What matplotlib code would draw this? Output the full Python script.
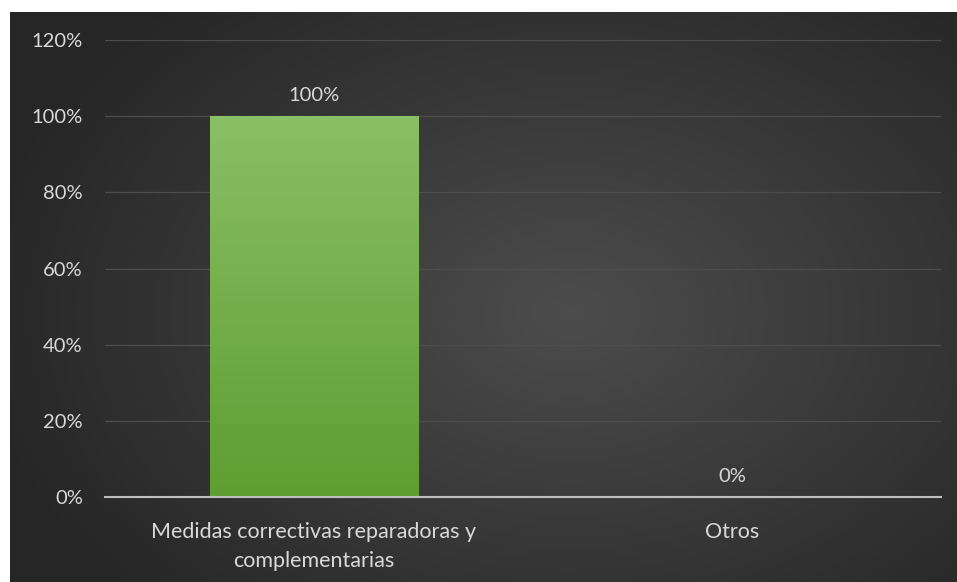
import numpy as np
from matplotlib import pyplot as plt

categories = ['Medidas correctivas reparadoras y\ncomplementarias', 'Otros']
values = [1.00, 0.00]
labels = ['100%', '0%']
yticks = [0, 0.2, 0.4, 0.6, 0.8, 1.0, 1.2]

plt.rcParams['font.family'] = ['Lato', 'DejaVu Sans']
txt = '#d9d9d9'

fig = plt.figure(figsize=(9.57, 5.82), dpi=100)
fig.patch.set_facecolor('white')

# dark radial background
bg = fig.add_axes([10/957, 0, 947/957, 570/582])
yy, xx = np.mgrid[0:570, 0:947]
r = np.sqrt(((xx - 560) / 600.0)**2 + ((yy - 300) / 420.0)**2)
r = np.clip(r, 0, 1)
c = 0.30 - 0.15 * r
img = np.dstack([c, c, c])
bg.imshow(img, aspect='auto', extent=[0, 1, 0, 1])
bg.set_axis_off()

ax = fig.add_axes([105/957, 85/582, 836/957, 457/582])
ax.set_facecolor('none')
x = np.arange(len(categories))
bars = ax.bar(x, values, width=0.5, color='#70ad47', zorder=3)

# vertical gradient on the bars
grad = np.linspace(0, 1, 256).reshape(-1, 1)
top = np.array([0x8a, 0xbf, 0x66]) / 255
bot = np.array([0x5e, 0x9e, 0x32]) / 255
gimg = bot + (top - bot) * grad[:, :, None]
for b in bars:
    if b.get_height() <= 0:
        continue
    im = ax.imshow(gimg, origin='lower', aspect='auto', zorder=4,
                   extent=[b.get_x(), b.get_x() + b.get_width(), 0, b.get_height()])
    im.set_clip_path(b)

ax.set_xlim(-0.5, 1.5)
ax.set_ylim(0, 1.2)
ax.set_yticks(yticks)
ax.set_yticklabels(['%d%%' % round(t * 100) for t in yticks])
ax.set_xticks(x)
ax.set_xticklabels(categories, linespacing=1.55)
ax.tick_params(axis='both', length=0, colors=txt)
ax.tick_params(axis='y', pad=16, labelsize=14.5)
ax.tick_params(axis='x', pad=18, labelsize=15.5)
ax.grid(axis='y', color='#4d4d4d', linewidth=0.9, zorder=0)
for s in ['top', 'right', 'left']:
    ax.spines[s].set_visible(False)
ax.spines['bottom'].set_color('#bfbfbf')
ax.spines['bottom'].set_linewidth(1.5)
ax.spines['bottom'].set_zorder(5)

for xi, v, lab in zip(x, values, labels):
    ax.annotate(lab, (xi, v), xytext=(0, 9), textcoords='offset points',
                ha='center', va='bottom', color=txt, fontsize=14.5)

fig.savefig('out.png', dpi=100)
